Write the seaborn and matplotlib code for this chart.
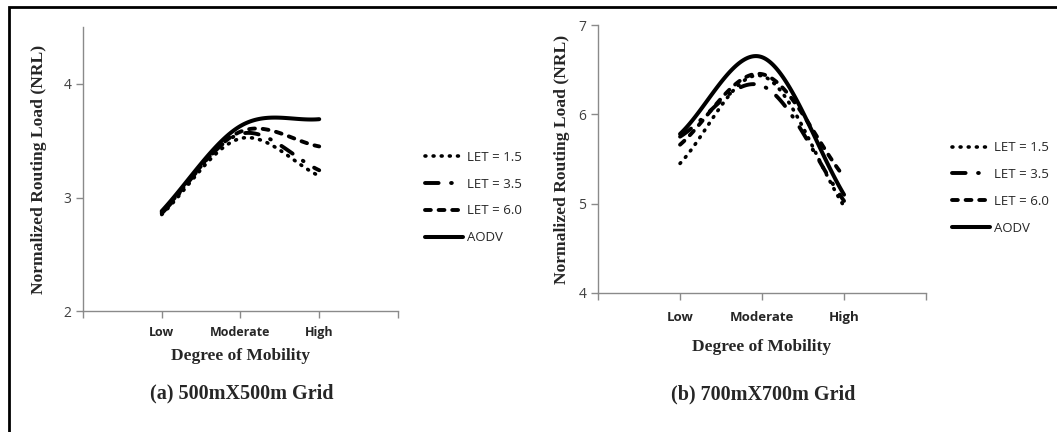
import numpy as np
import pandas as pd
import matplotlib
matplotlib.use("Agg")
import matplotlib.pyplot as plt
from matplotlib.patches import Rectangle
import seaborn as sns

# Data
mobility = ["Low", "Moderate", "High"]
series_names = ["LET = 1.5", "LET = 3.5", "LET = 6.0", "AODV"]

nrl_500 = {
    "LET = 1.5": [2.85, 3.52, 3.19],
    "LET = 3.5": [2.86, 3.56, 3.24],
    "LET = 6.0": [2.87, 3.58, 3.45],
    "AODV": [2.88, 3.63, 3.69],
}
nrl_700 = {
    "LET = 1.5": [5.45, 6.43, 4.97],
    "LET = 3.5": [5.75, 6.32, 5.03],
    "LET = 6.0": [5.66, 6.45, 5.30],
    "AODV": [5.78, 6.64, 5.10],
}

styles = {
    "LET = 1.5": dict(linestyle=(0, (0.25, 2.0)), linewidth=2.6, dash_capstyle="round"),
    "LET = 3.5": dict(linestyle=(0, (3.5, 3.2, 0.2, 3.2)), linewidth=2.8, dash_capstyle="round"),
    "LET = 6.0": dict(linestyle=(0, (1.5, 2.0)), linewidth=2.8, dash_capstyle="round"),
    "AODV": dict(linestyle="-", linewidth=2.9, solid_capstyle="round"),
}


def smooth(values, n=60):
    """Excel-like smoothed line (Catmull-Rom) through the category points."""
    y = np.asarray(values, dtype=float)
    k = len(y)
    tang = np.zeros(k)
    tang[0] = y[1] - y[0]
    tang[-1] = y[-1] - y[-2]
    for i in range(1, k - 1):
        tang[i] = (y[i + 1] - y[i - 1]) / 2
    xs, ys = [], []
    for i in range(k - 1):
        t = np.linspace(0, 1, n, endpoint=(i == k - 2))
        h00 = 2 * t**3 - 3 * t**2 + 1
        h10 = t**3 - 2 * t**2 + t
        h01 = -2 * t**3 + 3 * t**2
        h11 = t**3 - t**2
        xs.append(i + 1 + t)
        ys.append(h00 * y[i] + h10 * tang[i] + h01 * y[i + 1] + h11 * tang[i + 1])
    return np.concatenate(xs), np.concatenate(ys)


sns.set_theme(style="white")
plt.rcParams["font.family"] = ["Liberation Serif", "DejaVu Sans"]

fig = plt.figure(figsize=(10.57, 4.32), dpi=100)
ax1 = fig.add_axes([0.0785, 0.280, 0.298, 0.657])
ax2 = fig.add_axes([0.5658, 0.322, 0.3103, 0.620])

panels = [
    # ax, data, ylim, yticks, title, title pos, legend anchor, tick pad, xlabel pad, ylabel pad, tick size
    (ax1, nrl_500, (2, 4.5), [2, 3, 4], "(a) 500mX500m Grid", (0.229, 0.090),
     (1.086, 0.400), 6.0, 6.5, 12.0, 9.0),
    (ax2, nrl_700, (4, 7), [4, 5, 6, 7], "(b) 700mX700m Grid", (0.722, 0.086),
     (1.079, 0.392), 8.0, 10.5, 6.0, 9.5),
]

for (ax, data, ylim, yticks, title, title_pos, leg_pos,
     tick_pad, xlab_pad, ylab_pad, tick_size) in panels:
    for name in series_names:
        xs, ys = smooth(data[name])
        df = pd.DataFrame({"x": xs, "y": ys})
        sns.lineplot(data=df, x="x", y="y", ax=ax, color="black", label=name,
                     sort=False, estimator=None, **styles[name])
    ax.set_xlim(0, 4)
    ax.set_ylim(*ylim)
    ax.set_yticks(yticks)
    ax.set_xticks([0, 1, 2, 3, 4])
    ax.set_xticklabels([""] + mobility + [""], fontfamily="Open Sans",
                       fontweight="bold", fontsize=tick_size)
    for lab in ax.get_yticklabels():
        lab.set_fontfamily("Open Sans")
        lab.set_fontsize(10)
        lab.set_color("#404040")
    for side in ["top", "right"]:
        ax.spines[side].set_visible(False)
    for side in ["left", "bottom"]:
        ax.spines[side].set_color("#8a8a8a")
        ax.spines[side].set_linewidth(1.0)
    ax.tick_params(axis="both", direction="out", length=5, width=1.0,
                   color="#8a8a8a", left=True, bottom=True)
    ax.tick_params(axis="x", pad=tick_pad)
    ax.set_xlabel("Degree of Mobility", fontsize=12.5, fontweight="bold",
                  labelpad=xlab_pad)
    ax.set_ylabel("Normalized Routing Load (NRL)", fontsize=12.6, fontweight="bold",
                  labelpad=ylab_pad)
    fig.text(title_pos[0], title_pos[1], title, ha="center", va="center",
             fontsize=14.5, fontweight="bold")
    ax.legend(loc="center left", bbox_to_anchor=leg_pos, frameon=False,
              prop={"family": "Open Sans", "size": 9.5}, borderpad=0,
              borderaxespad=0, handlelength=2.9, handletextpad=0.3,
              labelspacing=1.05)

fig.patches.append(Rectangle((9 / 1057, -0.05), 1.1, 1 - 7 / 432 + 0.05,
                             transform=fig.transFigure, fill=False,
                             edgecolor="black", linewidth=2, clip_on=False))

fig.savefig("out.png", dpi=100)
